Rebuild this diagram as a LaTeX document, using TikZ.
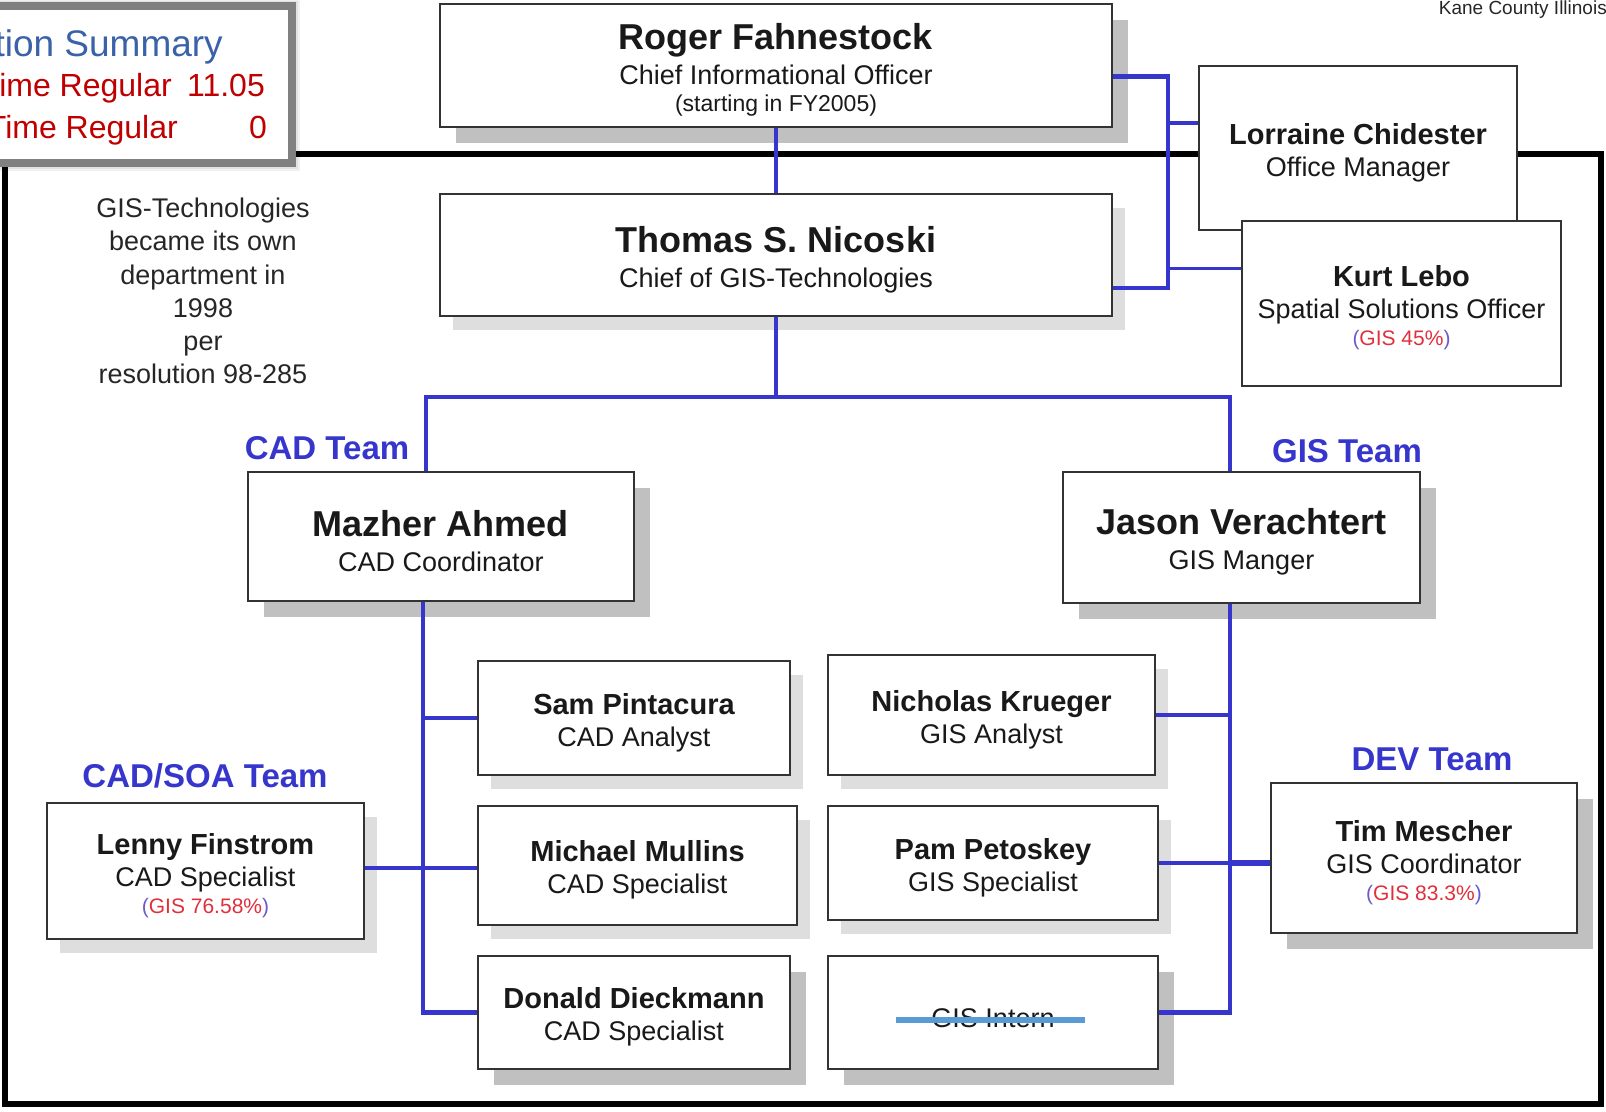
\documentclass[tikz,border=0pt]{standalone}
\usepackage{fontspec}
\setmainfont{Liberation Sans}
\usepackage{xcolor}
\usetikzlibrary{calc,shadows}
\definecolor{OrgBlue}{HTML}{3636CC}
\definecolor{TitleBlue}{HTML}{3A62A8}
\definecolor{FteRed}{HTML}{C00000}
\definecolor{PctRed}{HTML}{E0303C}
\definecolor{ParenBlue}{HTML}{6A5ACD}
\definecolor{ShadowDark}{HTML}{C0C0C0}
\definecolor{ShadowLight}{HTML}{DEDEDE}
\definecolor{StrikeBlue}{HTML}{5B9BD5}

\newcommand\bigname[1]{{\fontsize{36}{36}\selectfont\bfseries\rule{0pt}{35pt}#1}}
\newcommand\smallname[1]{{\fontsize{29}{29}\selectfont\bfseries\rule{0pt}{30pt}#1}}
\newcommand\gispct[1]{{\fontsize{21}{21}\selectfont\textcolor{ParenBlue}{(}\textcolor{PctRed}{GIS #1\%}\textcolor{ParenBlue}{)}}}

\tikzset{
  box/.style={draw=black!80, line width=1.2pt, fill=white, inner sep=0pt, align=center,
    text=black!90, font=\fontsize{27}{32}\selectfont},
  shadowdark/.style={drop shadow={shadow xshift=16pt, shadow yshift=-16pt, fill=ShadowDark, opacity=1}},
  shadowlight/.style={drop shadow={shadow xshift=13pt, shadow yshift=-14pt, fill=ShadowLight, opacity=1}},
  link/.style={draw=OrgBlue, line width=4.5pt},
  team/.style={text=OrgBlue, font=\fontsize{33}{33}\selectfont\bfseries, inner sep=0pt},
  fte/.style={text=FteRed, font=\fontsize{32}{32}\selectfont, inner sep=0pt, anchor=base east},
}

\begin{document}
\begin{tikzpicture}[x=1pt,y=-1pt]
    \useasboundingbox (0,0) rectangle (1606,1111);

    % department frame
    \draw[line width=6pt] (5,154) rectangle (1601,1104);

    % position summary (cut at the left edge)
    \foreach \g in {16,11,6} {
     \draw[black, opacity=0.06, line width=\g pt] (-10,6) rectangle (292,163);
    }
    \draw[draw=black!50, line width=8pt, fill=white] (-10,6) rectangle (292,163);
    \node[anchor=base east, inner sep=0pt, text=TitleBlue, font=\fontsize{37}{37}\selectfont] (sumtitle) at (223,56) {tion Summary};
    \node[fte] (fullreg) at (172,96.5) {ime Regular};
    \node[fte] (fullval) at (265,96.5) {11.05};
    \node[fte] (partreg) at (178,138.5) {Time Regular};
    \node[fte] (partval) at (267,138.5) {0};

    \node[anchor=east, inner sep=0pt, text=black!85, font=\fontsize{19}{19}\selectfont] (county) at (1607,10) {Kane County Illinois};

    \node[align=center, inner sep=0pt, text=black!85, font=\fontsize{27}{33.2}\selectfont] (history) at (203,291)
      {GIS-Technologies\\became its own\\department in\\1998\\per\\resolution 98-285};

    % boxes
    \node[box, shadowdark, minimum width=672pt, minimum height=123pt] (roger) at (776,65.5)
      {\bigname{Roger Fahnestock}\\[3pt] Chief Informational Officer\\[-4.5pt] {\fontsize{23}{23}\selectfont(starting in FY2005)}};
    \node[box, shadowlight, minimum width=672pt, minimum height=122pt] (thomas) at (776,255)
      {\bigname{Thomas S. Nicoski}\\[3pt] Chief of GIS-Technologies};
    \node[box, minimum width=318pt, minimum height=164pt] (lorraine) at (1358,148)
      {\smallname{Lorraine Chidester}\\ Office Manager};
    \node[box, minimum width=319pt, minimum height=165pt] (kurt) at (1401.5,303.5)
      {\smallname{Kurt Lebo}\\ Spatial Solutions Officer\\[-5pt] \gispct{45}};

    \node[box, shadowdark, minimum width=386pt, minimum height=129pt] (mazher) at (441,536.5)
      {\bigname{Mazher Ahmed}\\[3pt] CAD Coordinator};
    \node[box, shadowdark, minimum width=357pt, minimum height=131pt] (jason) at (1241.5,537.5)
      {\bigname{Jason Verachtert}\\[3pt] GIS Manger};

    \node[box, shadowlight, minimum width=312pt, minimum height=114pt] (sam) at (634,718)
      {\smallname{Sam Pintacura}\\ CAD Analyst};
    \node[box, shadowlight, minimum width=319pt, minimum height=119pt] (michael) at (637.5,865.5)
      {\smallname{Michael Mullins}\\ CAD Specialist};
    \node[box, shadowdark, minimum width=312pt, minimum height=113pt] (donald) at (634,1012.5)
      {\smallname{Donald Dieckmann}\\ CAD Specialist};
    \node[box, shadowlight, minimum width=327pt, minimum height=120pt] (nicholas) at (991.5,715)
      {\smallname{Nicholas Krueger}\\ GIS Analyst};
    \node[box, shadowlight, minimum width=330pt, minimum height=114pt] (pam) at (993,863)
      {\smallname{Pam Petoskey}\\ GIS Specialist};
    \node[box, shadowdark, minimum width=330pt, minimum height=113pt] (intern) at (993,1012.5)
      {\rule{0pt}{29.5pt}GIS Intern};
    \node[box, shadowdark, minimum width=306pt, minimum height=150pt] (tim) at (1424,858)
      {\smallname{Tim Mescher}\\ GIS Coordinator\\[-5pt] \gispct{83.3}};
    \node[box, shadowlight, minimum width=317pt, minimum height=136pt] (lenny) at (205.5,871)
      {\smallname{Lenny Finstrom}\\ CAD Specialist\\[-5pt] \gispct{76.58}};

    \draw[StrikeBlue, line width=6pt] ($(intern.center)+(-97,7)$) -- ($(intern.center)+(92,7)$);

    % team labels
    \node[team] (cadteam) at (327,448) {CAD Team};
    \node[team] (gisteam) at (1347,451) {GIS Team};
    \node[team] (soateam) at (205,776) {CAD/SOA Team};
    \node[team] (devteam) at (1432,759) {DEV Team};

    % admin bus
    \coordinate (adminbus) at (1168,200);
    \draw[link] ([yshift=-11pt]roger.east) -| (adminbus) |- ([yshift=-33pt]thomas.east);
    \coordinate (lorrainetap) at ($(lorraine.west)+(0,-25)$);
    \draw[link, line width=3.5pt] (lorrainetap) -- (adminbus |- lorrainetap);
    \coordinate (kurttap) at ($(kurt.west)+(0,-35)$);
    \draw[link, line width=3.5pt] (kurttap) -- (adminbus |- kurttap);
    \draw[link] (roger.south) -- (thomas.north);

    % main bus
    \coordinate (cadtop) at (426,397);
    \coordinate (gistop) at (1230,397);
    \draw[link] (thomas.south) -- (thomas.south |- cadtop);
    \draw[link] (cadtop |- mazher.north) -- (cadtop) -- (gistop) -- (gistop |- jason.north);

    % CAD column
    \coordinate (cadcol) at (423,0);
    \draw[link] (cadcol |- mazher.south) |- (donald.west);
    \draw[link] (cadcol |- sam.west) -- (sam.west);
    \coordinate (cadsoa) at (423,868);
    \draw[link] (lenny.east |- cadsoa) -- (michael.west |- cadsoa);

    % GIS column
    \coordinate (giscol) at (1230,0);
    \draw[link] (giscol |- jason.south) |- (intern.east);
    \draw[link] (nicholas.east) -- (giscol |- nicholas.east);
    \coordinate (devtap) at (1230,863);
    \draw[link] (pam.east |- devtap) -- (devtap);
    \draw[link, line width=6pt] (devtap) -- (tim.west |- devtap);
\end{tikzpicture}
\end{document}
